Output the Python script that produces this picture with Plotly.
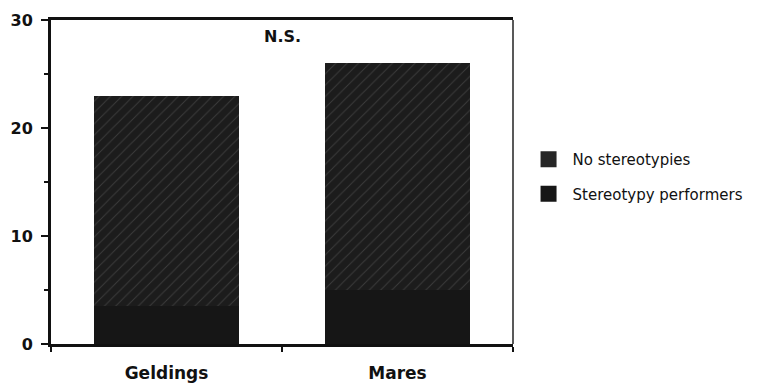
import plotly.graph_objects as go

categories = ["Geldings", "Mares"]
stereotypy_performers = [3.5, 5]
no_stereotypies = [19.5, 21]
y_ticks = [0, 10, 20, 30]

fig = go.Figure()
fig.add_trace(go.Bar(
    x=categories, y=stereotypy_performers, name="Stereotypy performers",
    showlegend=False,
    marker=dict(color="#161616", line=dict(width=0)),
))
fig.add_trace(go.Bar(
    x=categories, y=no_stereotypies, name="No stereotypies",
    showlegend=False,
    marker=dict(color="#1c1c1c", line=dict(width=0),
                pattern=dict(shape="/", fgcolor="#5a5a5a", bgcolor="#1c1c1c",
                             size=8, solidity=0.12)),
))
# legend keys (larger square swatches, as in the original)
fig.add_trace(go.Scatter(
    x=[None], y=[None], mode="markers", name="No stereotypies",
    legendgroup="a", legendrank=1,
    marker=dict(symbol="square", size=18, color="#262626"),
))
fig.add_trace(go.Scatter(
    x=[None], y=[None], mode="markers", name="Stereotypy performers",
    legendgroup="b", legendrank=2,
    marker=dict(symbol="square", size=18, color="#161616"),
))

font = dict(family="DejaVu Sans, Liberation Sans, Arial, sans-serif", color="#111111")
fig.update_layout(
    barmode="stack", bargap=0.37,
    width=777, height=387,
    margin=dict(l=51, r=264, t=20, b=43),
    paper_bgcolor="white", plot_bgcolor="white",
    font=font,
    legend=dict(x=1.025, y=0.62, xanchor="left", yanchor="top",
                traceorder="grouped", font=dict(size=15, color="#111111"),
                itemwidth=38, tracegroupgap=12),
    annotations=[dict(text="<b>N.S.</b>", x=0.5, y=0.985, xref="paper", yref="paper",
                      xanchor="center", yanchor="top", showarrow=False,
                      font=dict(size=16, color="#111111"))],
    shapes=[dict(type="line", xref="paper", yref="paper", x0=1, x1=1, y0=0, y1=1,
                 line=dict(color="#222222", width=1.5))],
)
fig.update_xaxes(
    showline=True, linecolor="#111111", linewidth=2.5, mirror=True,
    ticks="outside", tickson="boundaries", ticklen=5, tickcolor="#111111", tickwidth=2,
    tickfont=dict(size=17, weight="bold", color="#111111"),
    ticklabelstandoff=12, automargin=False,
    showgrid=False,
)
fig.update_yaxes(
    range=[0, 30], tickvals=y_ticks, showline=True, linecolor="#111111", linewidth=3,
    ticks="outside", ticklen=7, tickwidth=2, tickcolor="#111111",
    minor=dict(dtick=5, ticks="outside", ticklen=4, tickwidth=2, tickcolor="#111111"),
    tickfont=dict(size=16, weight="bold", color="#111111"),
    ticklabelstandoff=5, automargin=False,
    showgrid=False, zeroline=False,
)
fig.write_html("out.html")
